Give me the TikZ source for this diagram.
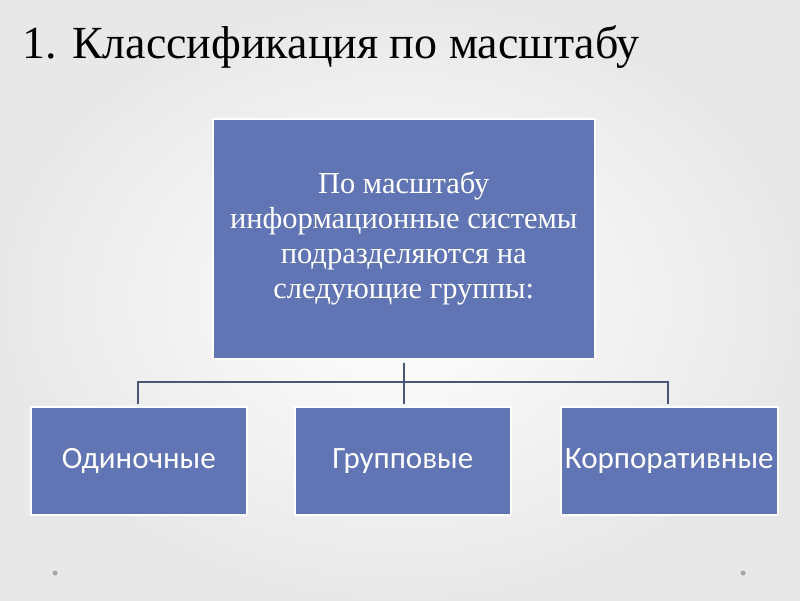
\documentclass[tikz,border=0pt]{standalone}
\usepackage{fontspec}
\setmainfont{Liberation Serif}
\newfontfamily\boxsans{Carlito}
\begin{document}
\begin{tikzpicture}[x=1pt,y=-1pt,
  box/.style={draw=white,line width=1.5pt,fill=boxblue,text=white,inner sep=0pt},
  conn/.style={draw=linegray,line width=1.6pt}]
\definecolor{boxblue}{HTML}{6174B4}
\definecolor{linegray}{HTML}{4B5577}
\useasboundingbox (0,0) rectangle (800,600);
\shade[inner color=white,outer color=gray!18] (0,0) rectangle (800,600);
\node[anchor=west,font=\fontsize{46}{52}\selectfont,text=black,inner sep=0pt] (title) at (22,47) {1. Классификация по масштабу};
\node[box,minimum width=382,minimum height=240,anchor=north west,align=center,font=\fontsize{30.5}{35}\selectfont] (top) at (212,118) {По масштабу\\информационные системы\\подразделяются на\\следующие группы:};
\node[box,minimum width=216,minimum height=108,anchor=north west,font=\boxsans\fontsize{31}{35}\selectfont] (a) at (30,406) {Одиночные};
\node[box,minimum width=216,minimum height=108,anchor=north west,font=\boxsans\fontsize{31}{35}\selectfont] (b) at (294,406) {Групповые};
\node[box,minimum width=217,minimum height=108,anchor=north west,font=\boxsans\fontsize{31}{35}\selectfont] (c) at (560,406) {Корпоративные};
\coordinate (j) at (403,382);
\draw[conn] ([yshift=-3]top.south) -- ([yshift=2]b.north-|top.south);
\draw[conn] ([yshift=2]a.north-|138,0) |- (j) -| ([yshift=2]c.north-|668,0);
\fill[gray!70] (55,573) circle (2.5) (743,573) circle (2.5);
\end{tikzpicture}
\end{document}
